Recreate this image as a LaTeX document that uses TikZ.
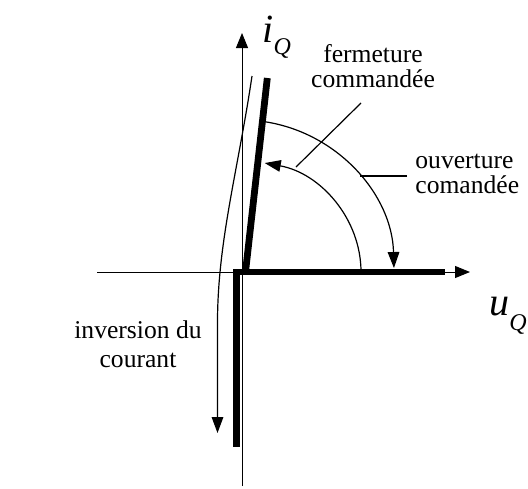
\documentclass[tikz,border=0pt]{standalone}
\usepackage{fontspec}
\setmainfont{Liberation Serif}
\usetikzlibrary{arrows.meta, positioning, calc}

\newcommand{\subQ}[1]{\raisebox{#1}{\fontsize{12}{12}\selectfont Q}}

\begin{document}
\begin{tikzpicture}[
  x=0.5pt, y=-0.5pt,
  axis/.style={-{Triangle[length=7.5pt, width=6pt]}, line width=0.5pt},
  thickbar/.style={line width=3.4pt},
  thin/.style={line width=0.6pt},
  arcarr/.style={-{Triangle[length=8pt, width=5.8pt]}, line width=0.6pt},
  lbl/.style={font=\fontsize{12.8}{12.5}\selectfont, align=center, inner sep=0pt},
  varlbl/.style={font=\fontsize{20}{20}\selectfont\itshape, inner sep=0pt, anchor=base west}
]
\useasboundingbox (0,0) rectangle (528,488);

%% ═══ AXES ═══
\coordinate (O) at (242,272);
\coordinate (xstart) at (97,272);
\coordinate (xend) at (470,272);
\coordinate (ystart) at (242,486);
\coordinate (yend) at (242,33);
\draw[axis] (xstart) -- (xend);
\draw[axis] (ystart) -- (yend);

\node[varlbl] (iQ) at (262,42) {i\subQ{-6pt}};
\node[varlbl] (uQ) at (489,315) {u\subQ{-7.5pt}};

%% ═══ CARACTERISTIQUE ═══
\draw[thickbar] (233,272) -- (445,272);
\draw[thickbar] (236.5,269) -- (236.5,447);
\draw[thickbar] (245.5,272) -- (267.3,78);

%% ═══ COMMUTATIONS ═══
\draw[arcarr] ($(O)+(119,0)$)
  arc[start angle=0, end angle=79, x radius=59.5pt, y radius=55.5pt];
\draw[arcarr] ($(O)+(81:76pt)$)
  arc[start angle=81, end angle=1.5, radius=76pt];

\node[lbl] (ferm) at (373,66) {fermeture\\commandée};
\coordinate (fermtop) at (361,103);
\coordinate (fermfoot) at (296,167);
\draw[thin] (fermtop) -- (fermfoot);

\node[lbl, anchor=west, align=left] (ouv) at (415,174) {ouverture\\comandée};
\coordinate (ouvtip) at (407,176);
\coordinate (ouvfoot) at (360,176);
\draw[thin] (ouvtip) -- (ouvfoot);

%% ═══ INVERSION ═══
\node[lbl] (inv) at (138,344.5) {inversion du\\[2pt]courant};
\coordinate (invtop) at (252,76);
\coordinate (invbot) at (217.5,433);
\draw[arcarr] (invtop) .. controls (238,170) and (218,240) .. (217.5,320) -- (invbot);

\end{tikzpicture}
\end{document}
